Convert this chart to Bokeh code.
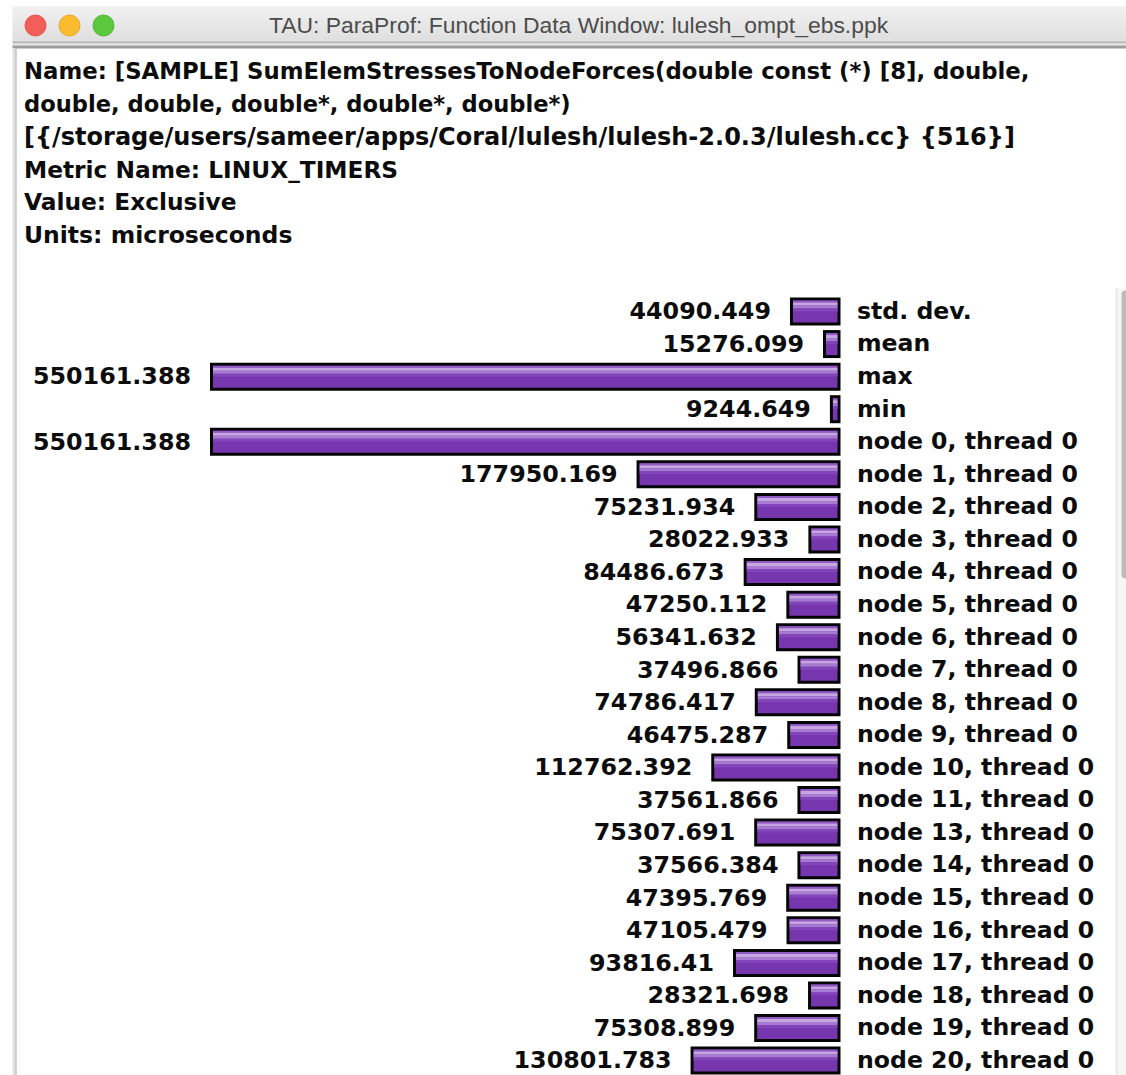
from bokeh.plotting import figure
from bokeh.models import Range1d
from bokeh.core.properties import value
from bokeh.embed import file_html
from bokeh.resources import INLINE

labels = ["std. dev.", "mean", "max", "min", "node 0, thread 0", "node 1, thread 0", "node 2, thread 0",
          "node 3, thread 0", "node 4, thread 0", "node 5, thread 0", "node 6, thread 0", "node 7, thread 0",
          "node 8, thread 0", "node 9, thread 0", "node 10, thread 0", "node 11, thread 0", "node 13, thread 0",
          "node 14, thread 0", "node 15, thread 0", "node 16, thread 0", "node 17, thread 0", "node 18, thread 0",
          "node 19, thread 0", "node 20, thread 0"]
values = [44090.449, 15276.099, 550161.388, 9244.649, 550161.388, 177950.169, 75231.934, 28022.933, 84486.673,
          47250.112, 56341.632, 37496.866, 74786.417, 46475.287, 112762.392, 37561.866, 75307.691, 37566.384,
          47395.769, 47105.479, 93816.41, 28321.698, 75308.899, 130801.783]
value_text = ["44090.449", "15276.099", "550161.388", "9244.649", "550161.388", "177950.169", "75231.934",
              "28022.933", "84486.673", "47250.112", "56341.632", "37496.866", "74786.417", "46475.287",
              "112762.392", "37561.866", "75307.691", "37566.384", "47395.769", "47105.479", "93816.41",
              "28321.698", "75308.899", "130801.783"]
header = ["Name: [SAMPLE] SumElemStressesToNodeForces(double const (*) [8], double,",
          "double, double, double*, double*, double*)",
          "[{/storage/users/sameer/apps/Coral/lulesh/lulesh-2.0.3/lulesh.cc} {516}]",
          "Metric Name: LINUX_TIMERS", "Value: Exclusive", "Units: microseconds"]
header_sizes = ["22.8px", "22.6px", "24px", "23.3px", "23.3px", "23.5px"]
title = "TAU: ParaProf: Function Data Window: lulesh_ompt_ebs.ppk"

W, H = 1126, 1075
ZERO = 840                 # pixel of value 0 (the bars grow leftwards)
K = (840 - 209.5) / max(values)   # pixels per microsecond
ROW0, ROW = 311, 32.57     # pixel centre of the first row, row pitch
rows = list(range(len(labels)))

p = figure(width=W, height=H, output_backend="svg", toolbar_location=None, min_border=0,
           x_range=Range1d(ZERO / K, (ZERO - W) / K),
           y_range=Range1d((H - ROW0) / ROW, -ROW0 / ROW))
p.extra_x_ranges["px"] = Range1d(0, W)
p.extra_y_ranges["px"] = Range1d(H, 0)
p.xaxis.visible = False
p.yaxis.visible = False
p.grid.visible = False
p.outline_line_color = None
p.background_fill_color = "#ffffff"
p.border_fill_color = "#ffffff"

def band(l, r, t, b, c, **kw):
    p.quad(left=l, right=r, top=t, bottom=b, fill_color=c, line_color=None,
           x_range_name="px", y_range_name="px", **kw)

# window chrome
for i in range(36):
    g = 236 - int(i * 0.72)
    band(12, 1126, 6 + i, 7 + i, "#%02x%02x%02x" % (g, g, g))
band(12, 1126, 41, 43, "#b4b4b4")
band(12, 1126, 43, 45, "#e2e2e2")
band(12, 1126, 45, 48, "#9c9c9c")
band(12, 15, 48, 1075, "#e0e0e0")
band(15, 16, 48, 1075, "#a8a8a8")
band(1115, 1126, 288, 1075, "#f6f6f6")
band(1115, 1117, 288, 1075, "#e9e9e9")
band(1121, 1130, 290, 578, "#bababa", border_radius=4)
p.circle(x=[35, 69, 103], y=[25, 25, 25], radius=10.5, fill_color=["#f25f58", "#fbbb2e", "#5cc83e"],
         line_color=["#e5534c", "#e9a825", "#50b735"], x_range_name="px", y_range_name="px")
p.text(x=[578], y=[24.5], text=[title], text_font=value("Liberation Sans"), text_font_size="22.9px",
       text_color="#4c4c4c", text_align="center", text_baseline="middle", x_range_name="px", y_range_name="px")

# header
p.text(x=[23.5] * 6, y=[70.5, 103, 136, 168.5, 201, 234], text=header, text_font=value("DejaVu Sans"),
       text_font_size=header_sizes, text_font_style="bold", text_color="#0c0c0c", text_align="left",
       text_baseline="middle", x_range_name="px", y_range_name="px")

# bars: black frame (outer edge = the value), purple body inset 3px, sheen near the top
zeros = [0] * len(values)
inset = 3 / K
inner_left = [inset] * len(values)
inner_right = [v - inset for v in values]
p.hbar(y=rows, left=zeros, right=values, height=28 / ROW, fill_color="#050505", line_color=None)
p.hbar(y=rows, left=inner_left, right=inner_right, height=22 / ROW, fill_color="#7636ae", line_color=None)
for top, bottom, colour in [(-11, -9, "#8f5ac4"), (-9, -6, "#c6a5e0"), (-6, -3, "#a67cd2"), (-3, 0, "#8244b8")]:
    p.hbar(y=[r + (top + bottom) / 2 / ROW for r in rows], left=inner_left, right=inner_right,
           height=(bottom - top) / ROW, fill_color=colour, line_color=None)

# labels
p.text(x=values, y=rows, text=value_text, x_offset=-19, y_offset=-0.7, text_font=value("DejaVu Sans"),
       text_font_size="23.8px", text_font_style="bold", text_color="#0c0c0c", text_align="right",
       text_baseline="middle")
p.text(x=zeros, y=rows, text=labels, x_offset=16.5, y_offset=-0.7, text_font=value("DejaVu Sans"),
       text_font_size="23.6px", text_font_style="bold", text_color="#0c0c0c", text_align="left",
       text_baseline="middle")

open("out.html", "w").write(file_html(p, INLINE))
